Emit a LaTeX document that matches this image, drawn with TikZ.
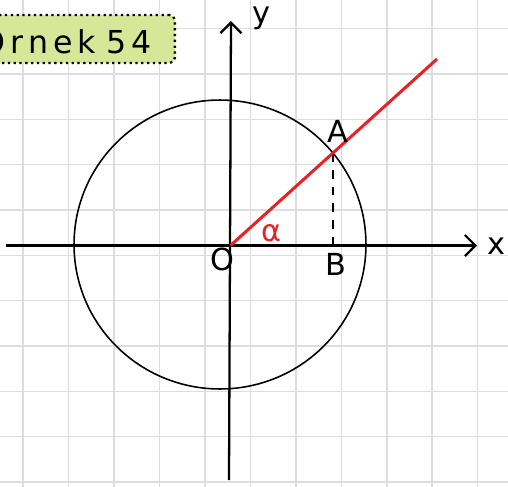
\documentclass[tikz,border=0pt]{standalone}
\usepackage{fontspec}
\setmainfont{DejaVu Sans}
\usetikzlibrary{positioning, arrows.meta}
\definecolor{gridgray}{RGB}{221,221,221}
\definecolor{tagfill}{RGB}{216,230,152}
\definecolor{penred}{RGB}{236,32,36}

\begin{document}
\begin{tikzpicture}[x=0.02cm, y=-0.02cm, gridline/.style={gridgray, line width=0.9pt}, axis/.style={line width=1.3pt, -{Straight Barb[length=6pt, width=12pt, line width=1.3pt]}}, circ/.style={line width=0.9pt}, ray/.style={penred, line width=1.7pt}, drop/.style={line width=1.1pt, dash pattern=on 5pt off 4.5pt}, lbl/.style={font=\LARGE, inner sep=1pt}, tag/.style={draw, dotted, line width=1.3pt, fill=tagfill, rounded corners=3pt, minimum height=0.96cm, text width=4.2cm, align=right, inner xsep=0.46cm, font=\fontsize{18}{21}\selectfont\addfontfeature{LetterSpace=16}}]

  \useasboundingbox (0,0) rectangle (508,487);
  \fill[white] (0,0) rectangle (508,487);

  \foreach \i in {0,...,10} {
    \draw[gridline] ({23+45.47*\i},0) -- ({23+45.47*\i},487);
    \draw[gridline] (0,{28.7+45.33*\i}) -- (508,{28.7+45.33*\i});
  }

  \node[tag, anchor=east] (title) at (176,39) {Örnek 54};

  \coordinate (O) at (230.5,245.5);
  \coordinate (xstart) at (6,245.5);
  \coordinate (xend) at (477,245.5);
  \coordinate (ystart) at (229,480);
  \coordinate (yend) at (231,21);
  \coordinate (A) at (332.7,153.3);
  \coordinate (B) at (A |- O);
  \coordinate (rayend) at (437,59);

  \draw[circ] (220,244.5) ellipse [x radius=2.92cm, y radius=2.89cm];
  \draw[axis] (xstart) -- (xend);
  \draw[axis] (ystart) -- (yend);
  \draw[drop] (A) -- (B);
  \draw[ray] (O) -- (rayend);

  \node[lbl] (olbl) at (222,259) {O};
  \node[lbl] (albl) at (338,131) {A};
  \node[lbl] (blbl) at (336,264) {B};
  \node[lbl, text=penred] (alpha) at (272,233) {α};
  \node[lbl] (ylbl) at (261,18) {y};
  \node[lbl] (xlbl) at (496,246) {x};
\end{tikzpicture}
\end{document}
